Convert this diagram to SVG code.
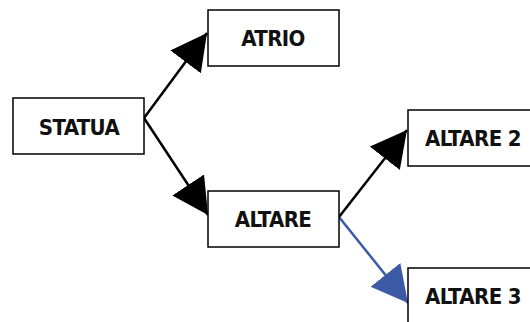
<svg xmlns="http://www.w3.org/2000/svg" width="530" height="322" viewBox="0 0 530 322">
  <style>
    .box { fill: #ffffff; stroke: #000000; stroke-width: 1.5; }
    .lbl { font-family: "DejaVu Sans Condensed", "DejaVu Sans", Verdana, sans-serif; font-stretch: condensed; font-weight: bold; font-size: 22px; letter-spacing: -0.6px; fill: #111111; text-anchor: middle; }
    .edge { fill: none; stroke-width: 2.5; }
  </style>
  <defs>
    <marker id="ahBlack" markerUnits="userSpaceOnUse" markerWidth="38" markerHeight="40" refX="36" refY="19" orient="auto">
      <path d="M0,0 L36,19 L0,38 Z" fill="#000000"/>
    </marker>
    <marker id="ahBlue" markerUnits="userSpaceOnUse" markerWidth="38" markerHeight="40" refX="36" refY="19" orient="auto">
      <path d="M0,0 L36,19 L0,38 Z" fill="#3c5aa6"/>
    </marker>
  </defs>
  <rect width="530" height="322" fill="#ffffff"/>
  <g id="connectors">
    <line class="edge" x1="144" y1="118" x2="207" y2="33" stroke="#000000" marker-end="url(#ahBlack)"/>
    <line class="edge" x1="144" y1="118" x2="208" y2="215" stroke="#000000" marker-end="url(#ahBlack)"/>
    <line class="edge" x1="339" y1="217" x2="407" y2="130" stroke="#000000" marker-end="url(#ahBlack)"/>
    <line class="edge" x1="339" y1="217" x2="408" y2="303" stroke="#3c5aa6" marker-end="url(#ahBlue)"/>
  </g>
  <g id="statua">
    <rect class="box" x="13" y="98" width="131" height="56"/>
    <text class="lbl" x="79" y="135">STATUA</text>
  </g>
  <g id="atrio">
    <rect class="box" x="208" y="10" width="131" height="56"/>
    <text class="lbl" x="273" y="46">ATRIO</text>
  </g>
  <g id="altare">
    <rect class="box" x="208" y="191" width="131" height="56"/>
    <text class="lbl" x="273" y="227">ALTARE</text>
  </g>
  <g id="altare2">
    <rect class="box" x="408" y="110" width="131" height="56"/>
    <text class="lbl" x="473" y="146">ALTARE 2</text>
  </g>
  <g id="altare3">
    <rect class="box" x="408" y="268" width="131" height="56"/>
    <text class="lbl" x="473" y="304">ALTARE 3</text>
  </g>
</svg>
